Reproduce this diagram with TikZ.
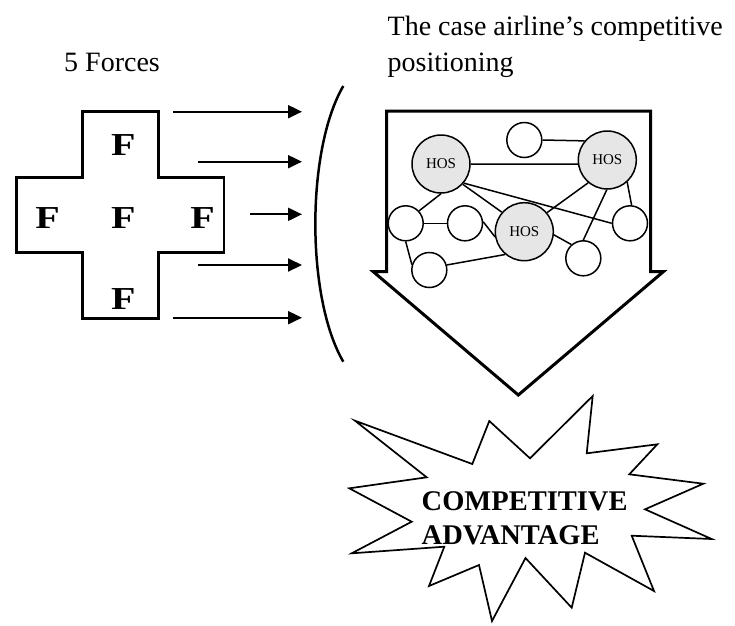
\documentclass[tikz,border=0pt]{standalone}
\usepackage{fontspec}
\setmainfont{Liberation Serif}
\usetikzlibrary{arrows.meta}
\definecolor{hosfill}{RGB}{230,230,230}
\tikzset{
  label28/.style={inner sep=0pt, font=\fontsize{28}{34}\selectfont},
  forceF/.style={inner sep=0pt, font=\fontsize{32}{34}\selectfont\bfseries},
  forcearrow/.style={line width=2pt, -{Triangle[length=14pt,width=13pt]}},
  hub/.style={circle, draw, line width=1.5pt, fill=hosfill, minimum size=58pt,
    inner sep=0pt, font=\fontsize{15}{17}\selectfont},
  spoke/.style={circle, draw, line width=1.5pt, fill=white, minimum size=35pt, inner sep=0pt},
  link/.style={line width=1.5pt},
  bigtext/.style={inner sep=0pt, anchor=base west, font=\fontsize{28.5}{34}\selectfont\bfseries}
}
\newcommand{\wideF}{\scalebox{1.25}[1]{F}}
\begin{document}
\begin{tikzpicture}[x=1pt,y=-1pt]
\useasboundingbox (0,0) rectangle (735,625);

% headings
\node[label28, anchor=base west] (forces) at (64,71.7) {5 Forces};
\node[label28, anchor=base west] (pos1) at (387.5,35) {The case airline’s competitive};
\node[label28, anchor=base west] (pos2) at (387.5,71.2) {positioning};

% the five forces cross
\draw[line width=2.7pt, line join=miter]
  (82.7,111.7) -- (158.3,111.7) -- (158.3,177.7) -- (224,177.7) -- (224,252.3)
  -- (158.3,252.3) -- (158.3,318.3) -- (82.7,318.3) -- (82.7,252.3)
  -- (16.7,252.3) -- (16.7,177.7) -- (82.7,177.7) -- cycle;
\node[forceF] (fN) at (123.3,145) {\wideF};
\node[forceF] (fC) at (123.3,218.3) {\wideF};
\node[forceF] (fW) at (47.7,218.3) {\wideF};
\node[forceF] (fE) at (202.7,218.3) {\wideF};
\node[forceF] (fS) at (123.3,298.7) {\wideF};

% arrows towards the bracket
\coordinate (s1) at (173.3,111.7); \coordinate (e1) at (302,111.7);
\coordinate (s2) at (198.3,161.7); \coordinate (e2) at (302,161.7);
\coordinate (s3) at (250,214.3);   \coordinate (e3) at (302,214.3);
\coordinate (s4) at (198.3,265);   \coordinate (e4) at (302,265);
\coordinate (s5) at (173.3,317.7); \coordinate (e5) at (302,317.7);
\foreach \i in {1,...,5} \draw[forcearrow] (s\i) -- (e\i);

% bracket
\coordinate (bt) at (343.3,86);
\coordinate (bb) at (343.3,361.7);
\draw[line width=2.5pt] (bt) .. controls (306,150) and (306,298) .. (bb);

% block arrow pointing down
\draw[line width=3pt, line join=miter]
  (386.5,111) -- (650.5,111) -- (650.5,271.7) -- (663.3,271.7) -- (518.3,395)
  -- (373.3,271.7) -- (386.5,271.7) -- cycle;

% network of positions
\node[hub]   (h1) at (441,164) {HOS};
\node[hub]   (h2) at (607.3,160) {HOS};
\node[hub]   (h3) at (524.3,231.7) {HOS};
\node[spoke] (t)  at (524.3,140) {};
\node[spoke] (l1) at (405.7,223.3) {};
\node[spoke] (l2) at (465,223.3) {};
\node[spoke] (bl) at (429.3,270) {};
\node[spoke] (r)  at (630,223.3) {};
\node[spoke] (br) at (583.3,258.3) {};

\draw[link] (t.east) -- (h2.140);
\draw[link] (h1.east) -- (h2.188);
\draw[link] (h1.south) -- (l1.43);
\draw[link] (h1.-43) -- (h3.139);
\draw[link] (h1.-40) -- (r.west);
\draw[link] (h2.-130) -- (h3.40);
\draw[link] (h2.-91) -- (br.north);
\draw[link] (h2.-48) -- (r.85);
\draw[link] (l1.east) -- (l2.west);
\draw[link] (l1.south) -- (bl.163);
\draw[link] (l2.5) -- (h3.190);
\draw[link] (h3.-6) -- (br.131);
\draw[link] (bl.16) -- (h3.-130);

% starburst
\draw[line width=1.7pt, line join=miter]
  (355,420.7) -- (472.3,464) -- (489.3,421) -- (530,458.3) -- (592.7,396)
  -- (586.7,453.3) -- (657.3,444.3) -- (629.3,474.3) -- (703.3,483.7)
  -- (645,509.3) -- (711.7,539) -- (631.7,535.7) -- (654,591)
  -- (585,552.7) -- (571.7,607.7) -- (525.5,558) -- (492,621)
  -- (479,565) -- (429,586) -- (444.3,546.7) -- (351.7,553.3)
  -- (411.7,521.7) -- (349.3,488.3) -- (426.7,477.3) -- cycle;
\node[bigtext] (ca1) at (421.5,510) {COMPETITIVE};
\node[bigtext] (ca2) at (421.5,544) {ADVANTAGE};
\end{tikzpicture}
\end{document}
